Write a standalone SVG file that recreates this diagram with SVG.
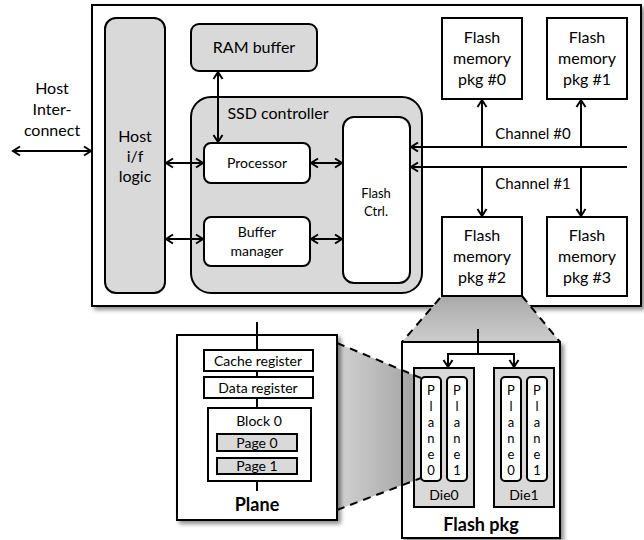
<svg xmlns="http://www.w3.org/2000/svg" width="644" height="540" viewBox="0 0 644 540">
  <style>
    text { font-family: "Lato", "Liberation Sans", sans-serif; fill: #000; text-anchor: middle; }
    .box { fill: #fff; stroke: #000; stroke-width: 2; }
    .gray { fill: #d9d9d9; stroke: #000; stroke-width: 2; }
    .line { fill: none; stroke: #000; stroke-width: 2; }
    .dash { fill: none; stroke: #000; stroke-width: 2; stroke-dasharray: 8 6; }
    .t16 { font-size: 16px; }
    .t15 { font-size: 15px; }
    .t14 { font-size: 14px; }
    .t13 { font-size: 13px; }
    .bold { font-size: 18px; font-weight: bold; }
  </style>
  <defs>
    <marker id="arr" markerUnits="userSpaceOnUse" markerWidth="12" markerHeight="12" viewBox="0 0 12 12" refX="10" refY="6" orient="auto-start-reverse">
      <path d="M3,1.5 L10,6 L3,10.5" fill="none" stroke="#000" stroke-width="2"/>
    </marker>
    <filter id="shadow" x="-10%" y="-10%" width="130%" height="130%">
      <feGaussianBlur in="SourceAlpha" stdDeviation="2"/>
      <feOffset dx="3" dy="3" result="b"/>
      <feComponentTransfer><feFuncA type="linear" slope="0.45"/></feComponentTransfer>
      <feMerge><feMergeNode/><feMergeNode in="SourceGraphic"/></feMerge>
    </filter>
    <linearGradient id="zoomTop" x1="0" y1="0" x2="0" y2="1">
      <stop offset="0" stop-color="#a9a9a9"/>
      <stop offset="1" stop-color="#cdcdcd"/>
    </linearGradient>
    <linearGradient id="zoomLeft" x1="0" y1="0" x2="1" y2="0">
      <stop offset="0" stop-color="#d2d2d2"/>
      <stop offset="1" stop-color="#a0a0a0"/>
    </linearGradient>
  </defs>

  <!-- SSD enclosure -->
  <rect id="ssd" x="92" y="5" width="549" height="301" class="box" filter="url(#shadow)"/>

  <!-- host interconnect label -->
  <g id="host-interconnect">
    <text class="t16" x="52" y="94">Host</text>
    <text class="t16" x="52" y="115">Inter-</text>
    <text class="t16" x="52" y="136">connect</text>
  </g>

  <g id="host-if">
    <rect x="105" y="18" width="60" height="275" rx="11" class="gray"/>
    <text class="t16" x="135" y="142">Host</text>
    <text class="t16" x="135" y="162">i/f</text>
    <text class="t16" x="135" y="182">logic</text>
  </g>

  <g id="ram-buffer">
    <rect x="191" y="24" width="126" height="47" rx="8" class="gray"/>
    <text class="t16" x="254" y="53">RAM buffer</text>
  </g>

  <g id="ssd-controller">
    <rect x="191" y="97" width="231" height="196" rx="20" class="gray"/>
    <text class="t16" x="278" y="119">SSD controller</text>
  </g>

  <g id="processor">
    <rect x="204" y="143" width="106" height="40" rx="7" class="box"/>
    <text class="t14" x="257" y="168">Processor</text>
  </g>

  <g id="buffer-manager">
    <rect x="204" y="217" width="106" height="49" rx="7" class="box"/>
    <text class="t14" x="257" y="237">Buffer</text>
    <text class="t14" x="257" y="256">manager</text>
  </g>

  <g id="flash-ctrl">
    <rect x="343" y="117" width="67" height="166" rx="11" class="box"/>
    <text class="t13" x="376" y="198">Flash</text>
    <text class="t13" x="376" y="216">Ctrl.</text>
  </g>

  <g id="pkg0">
    <rect x="442" y="18" width="80" height="81" class="box"/>
    <text class="t16" x="482" y="43">Flash</text>
    <text class="t16" x="482" y="64">memory</text>
    <text class="t16" x="482" y="85">pkg #0</text>
  </g>
  <g id="pkg1">
    <rect x="547" y="18" width="80" height="81" class="box"/>
    <text class="t16" x="587" y="43">Flash</text>
    <text class="t16" x="587" y="64">memory</text>
    <text class="t16" x="587" y="85">pkg #1</text>
  </g>

  <!-- magnified region from pkg #2 down to the flash package -->
  <polygon id="zoom-pkg" points="442,296 522,296 560,342 402,342" fill="url(#zoomTop)"/>

  <g id="pkg2">
    <rect x="442" y="217" width="80" height="79" class="box"/>
    <text class="t16" x="482" y="241">Flash</text>
    <text class="t16" x="482" y="262">memory</text>
    <text class="t16" x="482" y="283">pkg #2</text>
  </g>
  <g id="pkg3">
    <rect x="547" y="217" width="80" height="79" class="box"/>
    <text class="t16" x="587" y="241">Flash</text>
    <text class="t16" x="587" y="262">memory</text>
    <text class="t16" x="587" y="283">pkg #3</text>
  </g>

  <!-- channel labels -->
  <text class="t15" x="533" y="139">Channel #0</text>
  <text class="t15" x="533" y="189">Channel #1</text>

  <!-- flash package detail -->
  <g id="flash-pkg">
    <rect x="402" y="342" width="158" height="196" class="box" filter="url(#shadow)"/>
    <polygon points="337,343 421,378 421,478 337,510" fill="url(#zoomLeft)"/>
    <rect x="402" y="342" width="158" height="196" fill="none" stroke="#000" stroke-width="2"/>
    <text class="bold" x="481" y="531">Flash pkg</text>
  </g>

  <g id="die0">
    <rect x="414" y="368" width="60" height="139" class="gray"/>
    <rect x="421" y="377" width="20" height="104" rx="4" class="box"/>
    <rect x="447" y="377" width="20" height="104" rx="4" class="box"/>
    <g class="t13">
      <text x="431" y="395">P</text><text x="431" y="411">l</text><text x="431" y="427">a</text>
      <text x="431" y="443">n</text><text x="431" y="459">e</text><text x="431" y="475">0</text>
      <text x="457" y="395">P</text><text x="457" y="411">l</text><text x="457" y="427">a</text>
      <text x="457" y="443">n</text><text x="457" y="459">e</text><text x="457" y="475">1</text>
    </g>
    <text class="t14" x="444" y="500">Die0</text>
  </g>

  <g id="die1">
    <rect x="494" y="368" width="60" height="139" class="gray"/>
    <rect x="501" y="377" width="20" height="104" rx="4" class="box"/>
    <rect x="527" y="377" width="20" height="104" rx="4" class="box"/>
    <g class="t13">
      <text x="511" y="395">P</text><text x="511" y="411">l</text><text x="511" y="427">a</text>
      <text x="511" y="443">n</text><text x="511" y="459">e</text><text x="511" y="475">0</text>
      <text x="537" y="395">P</text><text x="537" y="411">l</text><text x="537" y="427">a</text>
      <text x="537" y="443">n</text><text x="537" y="459">e</text><text x="537" y="475">1</text>
    </g>
    <text class="t14" x="524" y="500">Die1</text>
  </g>

  <!-- plane detail -->
  <g id="plane">
    <rect x="177" y="335" width="160" height="185" class="box" filter="url(#shadow)"/>
    <rect x="204" y="350" width="109" height="21" class="box"/>
    <text class="t14" x="258" y="366">Cache register</text>
    <rect x="204" y="377" width="109" height="21" class="box"/>
    <text class="t14" x="258" y="393">Data register</text>
    <rect x="208" y="408" width="103" height="73" class="box"/>
    <text class="t14" x="259" y="426">Block 0</text>
    <rect x="217" y="434" width="80" height="17" class="gray"/>
    <text class="t14" x="257" y="448">Page 0</text>
    <rect x="217" y="458" width="80" height="16" class="gray"/>
    <text class="t14" x="257" y="471">Page 1</text>
    <text class="bold" x="257" y="511">Plane</text>
  </g>

  <g id="connectors">
    <!-- host side -->
    <line x1="13" y1="151" x2="91" y2="151" class="line" marker-start="url(#arr)" marker-end="url(#arr)"/>
    <line x1="166" y1="163" x2="203" y2="163" class="line" marker-start="url(#arr)" marker-end="url(#arr)"/>
    <line x1="166" y1="239" x2="203" y2="239" class="line" marker-start="url(#arr)" marker-end="url(#arr)"/>
    <line x1="218" y1="72" x2="218" y2="142" class="line" marker-start="url(#arr)" marker-end="url(#arr)"/>
    <line x1="311" y1="163" x2="342" y2="163" class="line" marker-start="url(#arr)" marker-end="url(#arr)"/>
    <line x1="311" y1="239" x2="342" y2="239" class="line" marker-start="url(#arr)" marker-end="url(#arr)"/>
    <!-- channels -->
    <line x1="627" y1="147" x2="411" y2="147" class="line" marker-end="url(#arr)"/>
    <line x1="627" y1="167" x2="411" y2="167" class="line" marker-end="url(#arr)"/>
    <line x1="482" y1="147" x2="482" y2="100" class="line" marker-end="url(#arr)"/>
    <line x1="581" y1="147" x2="581" y2="100" class="line" marker-end="url(#arr)"/>
    <line x1="482" y1="167" x2="482" y2="216" class="line" marker-end="url(#arr)"/>
    <line x1="581" y1="167" x2="581" y2="216" class="line" marker-end="url(#arr)"/>
    <!-- magnification guides -->
    <line x1="440" y1="298" x2="402" y2="342" class="dash"/>
    <line x1="522" y1="296" x2="560" y2="342" class="dash"/>
    <line x1="337" y1="343" x2="421" y2="378" class="dash"/>
    <line x1="337" y1="510" x2="421" y2="478" class="dash"/>
    <!-- flash pkg bus -->
    <line x1="478" y1="329" x2="478" y2="354" class="line"/>
    <polyline points="448,367 448,354 514,354 514,367" class="line"/>
    <line x1="448" y1="356" x2="448" y2="367" class="line" marker-end="url(#arr)"/>
    <line x1="514" y1="356" x2="514" y2="367" class="line" marker-end="url(#arr)"/>
    <!-- plane internal bus -->
    <line x1="257" y1="322" x2="257" y2="350" class="line"/>
    <line x1="257" y1="371" x2="257" y2="377" class="line"/>
    <line x1="257" y1="398" x2="257" y2="408" class="line"/>
    <line x1="257" y1="481" x2="257" y2="491" class="line"/>
  </g>
</svg>
